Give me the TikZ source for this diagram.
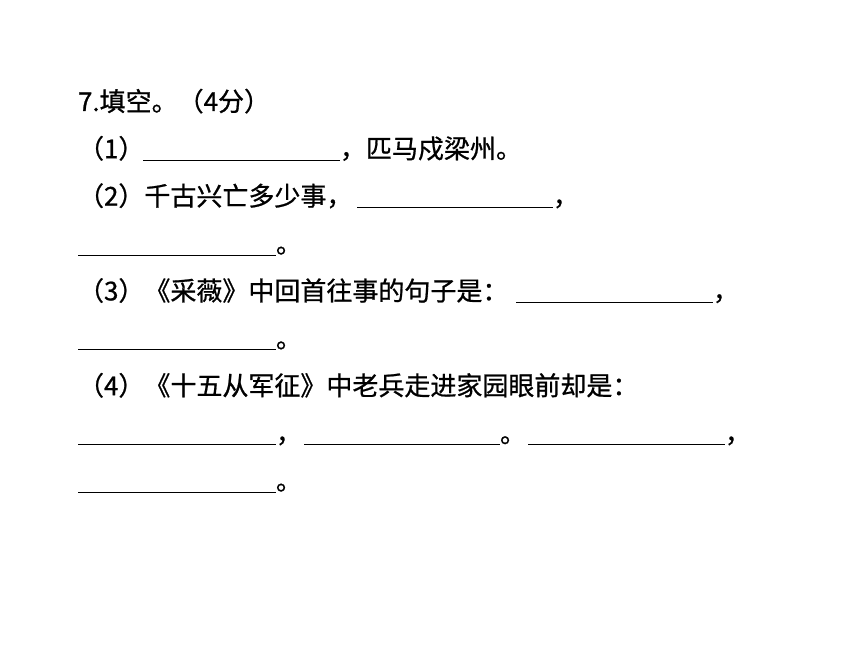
\documentclass[tikz,border=0pt]{standalone}
\usepackage{fontspec}
\newfontfamily\cjk[FakeBold=0.8]{Noto Sans CJK SC}
\begin{document}
\begin{tikzpicture}[x=1bp,y=-1bp,
  txt/.style={anchor=base west, inner sep=0pt, outer sep=0pt, font=\cjk\fontsize{26bp}{26bp}\selectfont},
  blank/.style={line width=1.5bp, black}]
\useasboundingbox[fill=white] (0,0) rectangle (860,645);
\def\bA{111}\def\bB{158.2}\def\bC{205.6}\def\bD{253}\def\bE{300.4}
\def\bF{347.8}\def\bG{395.2}\def\bH{442.6}\def\bI{490}
% rule heights
\def\rB{160.5}\def\rC{207.5}\def\rD{255.5}\def\rE{302.5}
\def\rF{349.5}\def\rH{444.5}\def\rI{492.5}
% line 1
\node[txt] (t1) at (78,\bA) {7.填空。（4分）};
% line 2
\node[txt] (t2a) at (78,\bB) {（1）};
\draw[blank] (143,\rB) -- (340,\rB);
\node[txt] (t2b) at (340,\bB) {，匹马戍梁州。};
% line 3
\node[txt] (t3a) at (78,\bC) {（2）千古兴亡多少事，};
\draw[blank] (357,\rC) -- (553,\rC);
\node[txt] (t3b) at (553,\bC) {，};
% line 4
\draw[blank] (78,\rD) -- (276,\rD);
\node[txt] (t4) at (276,\bD) {。};
% line 5
\node[txt] (t5a) at (78,\bE) {（3）《采薇》中回首往事的句子是：};
\draw[blank] (516,\rE) -- (713,\rE);
\node[txt] (t5b) at (713,\bE) {，};
% line 6
\draw[blank] (78,\rF) -- (276,\rF);
\node[txt] (t6) at (276,\bF) {。};
% line 7
\node[txt] (t7) at (78,\bG) {（4）《十五从军征》中老兵走进家园眼前却是：};
% line 8
\draw[blank] (78,\rH) -- (276,\rH);
\node[txt] (t8a) at (276,\bH) {，};
\draw[blank] (304,\rH) -- (500,\rH);
\node[txt] (t8b) at (500,\bH) {。};
\draw[blank] (528,\rH) -- (725,\rH);
\node[txt] (t8c) at (725,\bH) {，};
% line 9
\draw[blank] (78,\rI) -- (276,\rI);
\node[txt] (t9) at (276,\bI) {。};
\end{tikzpicture}
\end{document}
